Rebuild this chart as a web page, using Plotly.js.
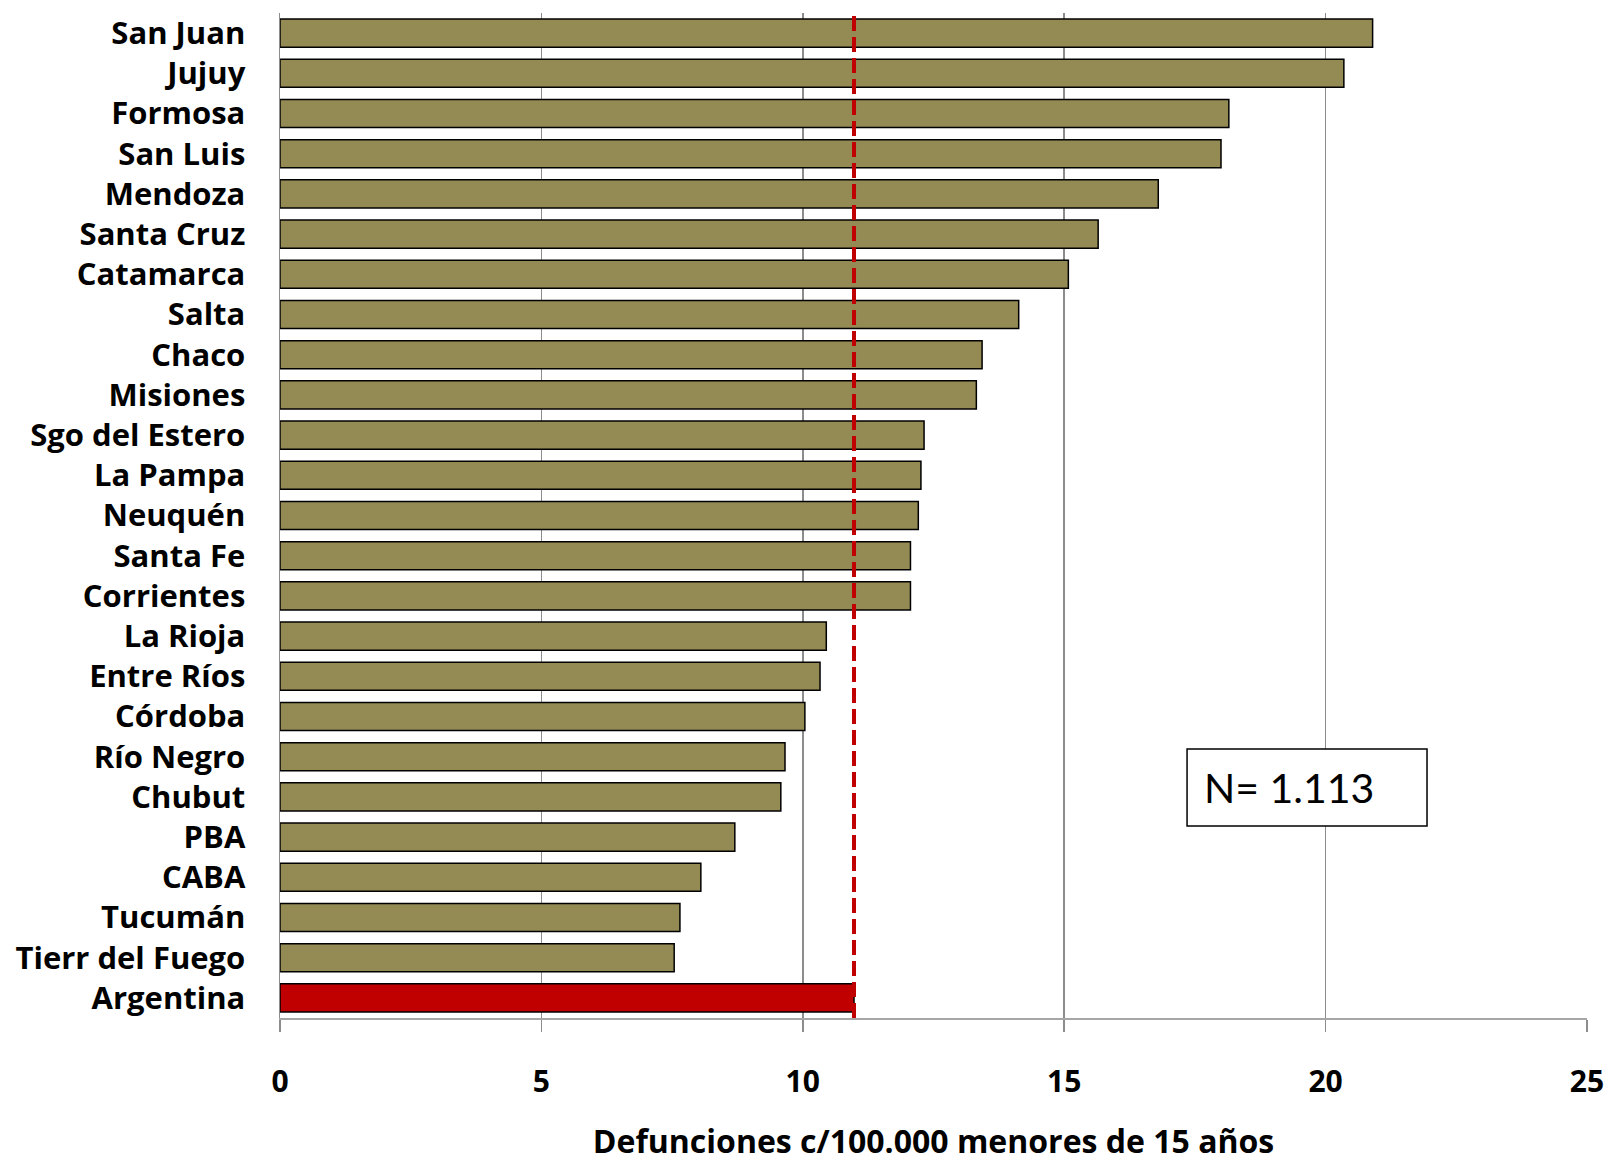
<!DOCTYPE html>
<html>
<head>
<meta charset="utf-8">
<script src="https://cdn.plot.ly/plotly-3.0.1.min.js"></script>
<style>html,body{margin:0;padding:0;background:#fff;}#chart{width:1612px;height:1162px;}</style>
</head>
<body>
<div id="chart"></div>
<script>
const provinces = ["San Juan","Jujuy","Formosa","San Luis","Mendoza","Santa Cruz","Catamarca","Salta","Chaco","Misiones","Sgo del Estero","La Pampa","Neuquén","Santa Fe","Corrientes","La Rioja","Entre Ríos","Córdoba","Río Negro","Chubut","PBA","CABA","Tucumán","Tierr del Fuego","Argentina"];
const rates = [20.9,20.35,18.15,18.0,16.8,15.65,15.08,14.13,13.43,13.32,12.32,12.26,12.21,12.06,12.06,10.45,10.33,10.04,9.66,9.58,8.7,8.05,7.65,7.54,10.98];
const xTicks = [0,5,10,15,20,25];
const xTitle = "Defunciones c/100.000 menores de 15 años";
const nLabel = "N= 1.113";
const nationalName = "Argentina";

const barColor = "#948A54";
const natColor = "#C00000";
const colors = provinces.map(p => p === nationalName ? natColor : barColor);
const natValue = rates[provinces.indexOf(nationalName)];

const labelFont = {family: "'Open Sans', sans-serif", size: 31, color: "#000", weight: "bold"};
const tickFont = {family: "'Open Sans', sans-serif", size: 30, color: "#000", weight: "bold"};
const titleFont = {family: "'Open Sans', sans-serif", size: 32, color: "#000", weight: "bold"};

const trace = {
  type: "bar",
  orientation: "h",
  y: provinces,
  x: rates,
  marker: {color: colors, line: {color: "#000", width: 1.5}},
  width: 0.7,
  hoverinfo: "x+y"
};

const layout = {
  width: 1612, height: 1162,
  margin: {l: 280, r: 25, t: 13, b: 144},
  paper_bgcolor: "#fff", plot_bgcolor: "#fff",
  font: {family: "'Open Sans', sans-serif", color: "#000"},
  showlegend: false,
  bargap: 0.3,
  xaxis: {
    range: [0, 25.001],
    tickvals: xTicks,
    ticktext: xTicks.map(String),
    showgrid: true, gridcolor: "#8c8c8c", gridwidth: 1.5,
    zeroline: false,
    showline: true, linecolor: "#a6a6a6", linewidth: 2,
    ticks: "outside", ticklen: 12, tickcolor: "#8c8c8c", tickwidth: 1.5,
    ticklabelstandoff: 24,
    tickfont: tickFont,
    title: {text: xTitle, font: titleFont, standoff: 35},
    fixedrange: true
  },
  yaxis: {
    categoryorder: "array",
    categoryarray: provinces.slice().reverse(),
    autorange: false,
    range: [-0.5, 24.5],
    showgrid: false, zeroline: false,
    showline: true, linecolor: "#8c8c8c", linewidth: 1.5,
    ticks: "",
    ticklabelstandoff: 27,
    tickfont: labelFont,
    fixedrange: true
  },
  shapes: [
    {type: "line", xref: "x", yref: "paper", x0: natValue, x1: natValue, y0: 0, y1: 1,
     line: {color: natColor, width: 4, dash: "15px,6px"}},
    {type: "rect", xref: "paper", yref: "paper", x0: 0.694, x1: 0.8776, y0: 0.191, y1: 0.2677,
     line: {color: "#000", width: 1.5}, fillcolor: "#fff"}
  ],
  annotations: [
    {xref: "paper", yref: "paper", x: 0.7055, y: 0.2294, xanchor: "left", yanchor: "middle",
     text: nLabel, showarrow: false, font: {family: "Lato", size: 41, color: "#000"}}
  ]
};

Plotly.newPlot("chart", [trace], layout, {displayModeBar: false, staticPlot: true});
</script>
</body>
</html>
